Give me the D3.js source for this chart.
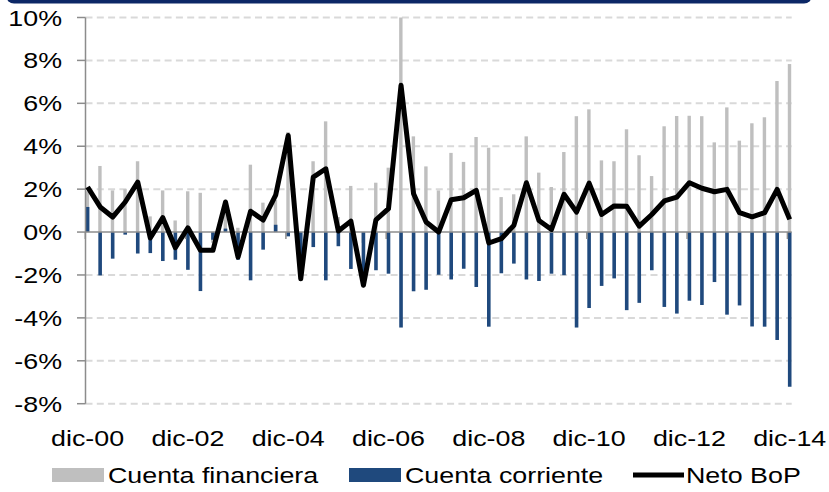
<!DOCTYPE html>
<html>
<head>
<meta charset="utf-8">
<script src="https://cdnjs.cloudflare.com/ajax/libs/d3/7.8.5/d3.min.js"></script>
<style>
  body { margin: 0; background: #fff; }
  svg text { font-family: "Liberation Sans", Arial, sans-serif; fill: #000; }
</style>
</head>
<body>
<script>
// quarterly data, dic-00 .. dic-14 (% of GDP)
var quarters = ["dic-00","mar-01","jun-01","sep-01","dic-01","mar-02","jun-02","sep-02",
  "dic-02","mar-03","jun-03","sep-03","dic-03","mar-04","jun-04","sep-04",
  "dic-04","mar-05","jun-05","sep-05","dic-05","mar-06","jun-06","sep-06",
  "dic-06","mar-07","jun-07","sep-07","dic-07","mar-08","jun-08","sep-08",
  "dic-08","mar-09","jun-09","sep-09","dic-09","mar-10","jun-10","sep-10",
  "dic-10","mar-11","jun-11","sep-11","dic-11","mar-12","jun-12","sep-12",
  "dic-12","mar-13","jun-13","sep-13","dic-13","mar-14","jun-14","sep-14","dic-14"];

var cuentaFinanciera = [1.9, 3.08, 1.94, 2.0, 3.3, 0.73, 1.94, 0.54, 1.9, 1.83,
  -0.5, 1.2, 0.2, 3.14, 1.37, 1.5, 4.66, -0.6, 3.3, 5.16,
  0.7, 2.15, -0.5, 2.3, 3.0, 10.0, 4.46, 3.06, 1.94, 3.69,
  3.27, 4.43, 3.93, 1.63, 1.76, 4.46, 2.77, 2.1, 3.73, 5.4,
  5.72, 3.34, 3.3, 4.79, 3.58, 2.61, 4.93, 5.41, 5.42, 5.4,
  4.18, 5.81, 4.26, 5.07, 5.35, 7.04, 7.83];

var cuentaCorriente = [1.17, -2.02, -1.24, -0.12, -1.0, -0.98, -1.35, -1.29, -1.76, -2.75,
  -0.36, 0.16, -1.29, -2.25, -0.82, 0.34, -0.2, -1.6, -0.7, -2.25,
  -0.66, -1.72, -2.1, -1.78, -1.94, -4.45, -2.76, -2.69, -1.99, -2.21,
  -1.71, -2.56, -4.41, -1.92, -1.47, -2.21, -2.28, -1.94, -2.01, -4.45,
  -3.54, -2.51, -2.16, -3.64, -3.3, -1.78, -3.49, -3.8, -3.2, -3.4,
  -2.33, -3.85, -3.42, -4.4, -4.41, -5.03, -7.21];

var netoBoP = [2.1, 1.17, 0.7, 1.4, 2.33, -0.28, 0.67, -0.73, 0.2, -0.85,
  -0.85, 1.4, -1.17, 0.97, 0.56, 1.72, 4.5, -2.18, 2.56, 2.95,
  0.05, 0.51, -2.48, 0.57, 1.09, 6.84, 1.79, 0.47, 0.0, 1.51,
  1.6, 1.94, -0.51, -0.31, 0.31, 2.3, 0.54, 0.12, 1.76, 0.93,
  2.28, 0.82, 1.22, 1.2, 0.28, 0.82, 1.45, 1.63, 2.3, 2.04,
  1.88, 1.99, 0.9, 0.71, 0.9, 1.99, 0.59];

var yTicks = [10, 8, 6, 4, 2, 0, -2, -4, -6, -8];
var xLabelIdx = [0, 8, 16, 24, 32, 40, 48, 56];

var W = 829, H = 492;
var stretch = 1.22; // text is wider than tall in the original

var svg = d3.select("body").append("svg")
  .attr("width", W).attr("height", H);

// navy band at the top (bottom edge of a title box)
svg.append("rect")
  .attr("x", 6).attr("y", -20)
  .attr("width", 806).attr("height", 23.5)
  .attr("rx", 8)
  .attr("fill", "#0c2766");

var x = d3.scaleLinear().domain([0, quarters.length - 1]).range([87.6, 789.7]);
var y = d3.scaleLinear().domain([-8, 10]).range([403.7, 17.5]);
var plotLeft = 85.5, plotRight = 791.7;

// dashed gridlines
svg.append("g").selectAll("line")
  .data(yTicks.filter(function(t){ return t !== 0; }))
  .join("line")
  .attr("x1", plotLeft).attr("x2", plotRight)
  .attr("y1", function(d){ return y(d); })
  .attr("y2", function(d){ return y(d); })
  .attr("stroke", "#d9d9d9")
  .attr("stroke-width", 2)
  .attr("stroke-dasharray", "7,4.3");

// bars: financial account behind, current account in front
svg.append("g").selectAll("rect")
  .data(cuentaFinanciera)
  .join("rect")
  .attr("x", function(d, i){ return x(i) - 1.9; })
  .attr("width", 3.4)
  .attr("y", function(d){ return y(Math.max(0, d)); })
  .attr("height", function(d){ return Math.abs(y(d) - y(0)); })
  .attr("fill", "#bfbfbf");

svg.append("g").selectAll("rect")
  .data(cuentaCorriente)
  .join("rect")
  .attr("x", function(d, i){ return x(i) - 1.8; })
  .attr("width", 3.6)
  .attr("y", function(d){ return y(Math.max(0, d)); })
  .attr("height", function(d){ return Math.abs(y(d) - y(0)); })
  .attr("fill", "#1f497d");

// axes
var axisColor = "#8c8c8c";
svg.append("line")
  .attr("x1", plotLeft).attr("x2", plotLeft)
  .attr("y1", y(10)).attr("y2", y(-8))
  .attr("stroke", axisColor).attr("stroke-width", 1.5);
svg.append("g").selectAll("line")
  .data(yTicks)
  .join("line")
  .attr("x1", 77).attr("x2", plotLeft)
  .attr("y1", function(d){ return y(d); })
  .attr("y2", function(d){ return y(d); })
  .attr("stroke", axisColor).attr("stroke-width", 1.5);

svg.append("line")
  .attr("x1", plotLeft).attr("x2", plotRight)
  .attr("y1", y(0)).attr("y2", y(0))
  .attr("stroke", axisColor).attr("stroke-width", 1.5);
svg.append("g").selectAll("line")
  .data(xLabelIdx)
  .join("line")
  .attr("x1", function(d){ return x(d) - 2.3; })
  .attr("x2", function(d){ return x(d) - 2.3; })
  .attr("y1", y(0)).attr("y2", y(0) + 7)
  .attr("stroke", axisColor).attr("stroke-width", 1.5);

// net BoP line
var line = d3.line()
  .x(function(d, i){ return x(i); })
  .y(function(d){ return y(d); });
svg.append("path")
  .datum(netoBoP)
  .attr("d", line)
  .attr("fill", "none")
  .attr("stroke", "#000")
  .attr("stroke-width", 5)
  .attr("stroke-linejoin", "round");

// y labels
svg.append("g").selectAll("text")
  .data(yTicks)
  .join("text")
  .attr("transform", function(d){ return "translate(62," + (y(d) + 8) + ") scale(" + stretch + ",1)"; })
  .attr("text-anchor", "end")
  .attr("font-size", 22)
  .text(function(d){ return d + "%"; });

// x labels
svg.append("g").selectAll("text")
  .data(xLabelIdx)
  .join("text")
  .attr("transform", function(d){ return "translate(" + x(d) + ",446) scale(" + stretch + ",1)"; })
  .attr("text-anchor", "middle")
  .attr("font-size", 22)
  .text(function(d){ return quarters[d]; });

// legend
var legend = svg.append("g");
var legendItems = [
  {name: "Cuenta financiera", color: "#bfbfbf", type: "bar", sx: 52, tx: 108},
  {name: "Cuenta corriente", color: "#1f497d", type: "bar", sx: 349, tx: 405},
  {name: "Neto BoP", color: "#000", type: "line", sx: 633, tx: 686}
];
legendItems.forEach(function(it){
  if (it.type === "bar") {
    legend.append("rect")
      .attr("x", it.sx).attr("y", 468)
      .attr("width", 52).attr("height", 14)
      .attr("fill", it.color);
  } else {
    legend.append("line")
      .attr("x1", it.sx).attr("x2", it.sx + 51)
      .attr("y1", 475).attr("y2", 475)
      .attr("stroke", it.color).attr("stroke-width", 5);
  }
  legend.append("text")
    .attr("transform", "translate(" + it.tx + ",483) scale(" + stretch + ",1)")
    .attr("font-size", 22)
    .text(it.name);
});
</script>
</body>
</html>
